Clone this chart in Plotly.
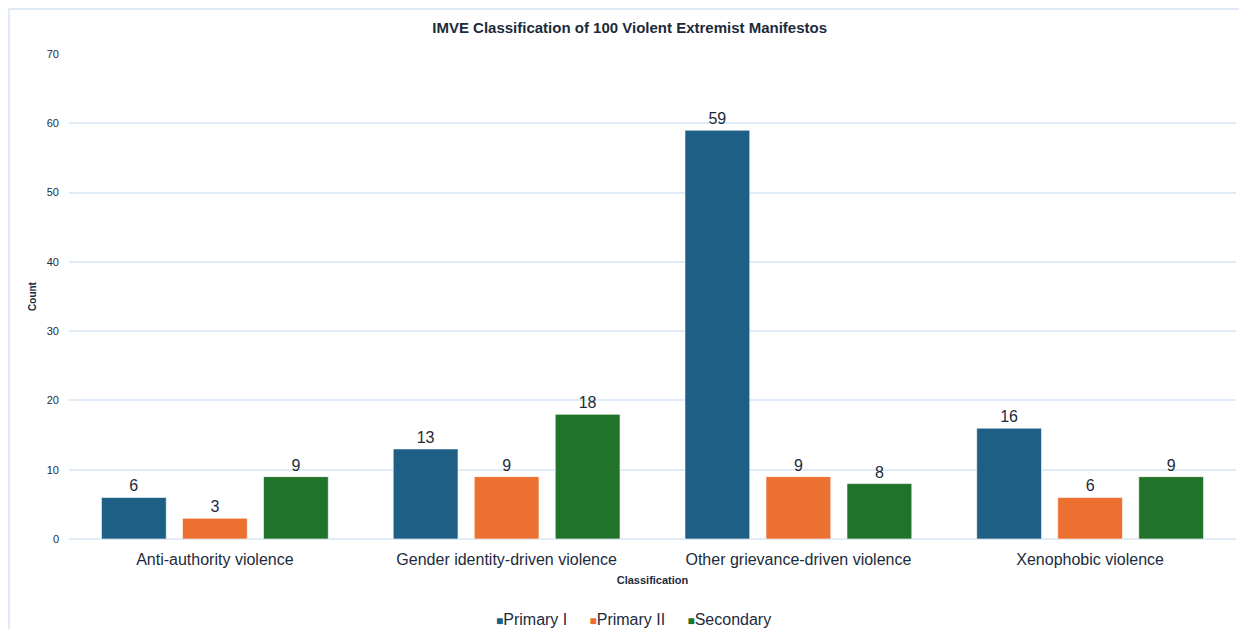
import plotly.graph_objects as go

categories = [
    "Anti-authority violence",
    "Gender identity-driven violence",
    "Other grievance-driven violence",
    "Xenophobic violence",
]
primary_1 = [6, 13, 59, 16]
primary_2 = [3, 9, 9, 6]
secondary = [9, 18, 8, 9]

series = [
    ("Primary I", primary_1, "#1d5f85"),
    ("Primary II", primary_2, "#ec7131"),
    ("Secondary", secondary, "#22732a"),
]

FONT = "Liberation Sans, Arial, Helvetica, sans-serif"
DARK = "#1c2b3c"

fig = go.Figure()
for name, vals, color in series:
    fig.add_trace(go.Bar(
        x=categories, y=vals, name=name,
        marker=dict(color=color, line=dict(color="rgba(255,255,255,0.6)", width=1)),
        text=vals, textposition="outside", cliponaxis=False,
        textfont=dict(size=16, color=DARK, family=FONT),
        showlegend=False,
    ))

# legend as a single line of text with coloured squares (closer to the original look)
legend_txt = "&nbsp;&nbsp;&nbsp;&nbsp;&nbsp;".join(
    f"<span style='color:{c};font-size:12px'>■</span>{n}" for n, _, c in series
)

fig.update_layout(
    width=1231, height=621,
    barmode="group", bargap=0.167, bargroupgap=0.2,
    paper_bgcolor="white", plot_bgcolor="white",
    font=dict(family=FONT, color=DARK),
    title=dict(
        text="<b>IMVE Classification of 100 Violent Extremist Manifestos</b>",
        x=0.505, xanchor="center", y=0.968, yanchor="middle",
        font=dict(size=15, color=DARK),
    ),
    margin=dict(l=61, r=3, t=46, b=90),
    xaxis=dict(
        title=dict(text="<b>Classification</b>", font=dict(size=11, color=DARK), standoff=9),
        tickfont=dict(size=16, color=DARK),
        showgrid=False, showline=False, ticks="", ticklabelstandoff=9,
    ),
    yaxis=dict(
        title=dict(text="<b>Count</b>", font=dict(size=10, color=DARK), standoff=8),
        range=[0, 70], dtick=10,
        tickfont=dict(size=11, color=DARK),
        gridcolor="#e0ebf7", gridwidth=1.5,
        zeroline=True, zerolinecolor="#e0ebf7", zerolinewidth=1.5,
        ticks="", ticklabelstandoff=9,
    ),
    annotations=[dict(
        text=legend_txt, xref="paper", yref="paper", x=0.484, y=-0.165,
        xanchor="center", yanchor="middle", showarrow=False,
        font=dict(size=16, color=DARK),
    )],
    shapes=[dict(
        type="rect", xref="paper", yref="paper",
        x0=-0.0514, x1=1.01, y0=-0.3, y1=1.0928,
        line=dict(color="#d6e4f5", width=1.5),
    )],
)

fig.write_html("out.html")
